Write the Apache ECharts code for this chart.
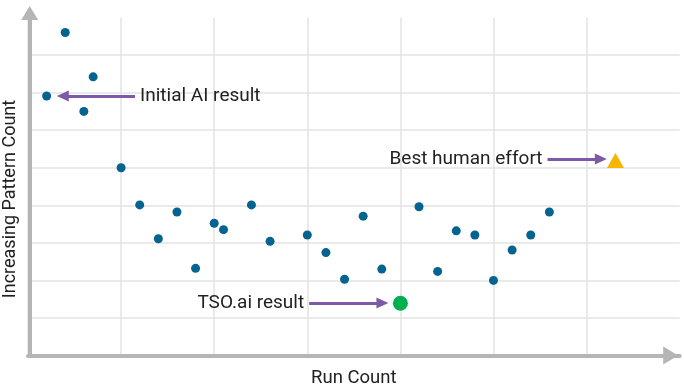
<!DOCTYPE html>
<html>
<head>
<meta charset="utf-8">
<script src="https://cdn.jsdelivr.net/npm/echarts@6/dist/echarts.min.js"></script>
<style>
html,body{margin:0;padding:0;background:#fff;}
#chart{width:684px;height:386px;}
</style>
</head>
<body>
<div id="chart"></div>
<script>
// AI runs (blue dots)
var runX = [0.2, 0.4, 0.6, 0.7, 1.0, 1.2, 1.4, 1.6, 1.8, 2.0, 2.1, 2.4, 2.6, 3.0, 3.2, 3.4, 3.6, 3.8, 4.2, 4.4, 4.6, 4.8, 5.0, 5.2, 5.4, 5.6];
var patternY = [6.91, 8.6, 6.5, 7.42, 5.0, 4.01, 3.11, 3.82, 2.32, 3.52, 3.35, 4.01, 3.04, 3.21, 2.74, 2.03, 3.71, 2.3, 3.96, 2.24, 3.32, 3.21, 2.0, 2.81, 3.21, 3.82];
// Highlighted results
var tsoResult = [4.0, 1.39];
var humanBest = [6.31, 5.19];
// Annotations: label, arrow start [x, y], arrow end [x, y]
var annLabels = ['Initial AI result', 'TSO.ai result', 'Best human effort'];
var annStart = [[1.15, 6.91], [3.02, 1.40], [5.58, 5.23]];
var annEnd = [[0.374, 6.91], [3.807, 1.40], [6.153, 5.23]];
// Axes
var axisNames = {x: 'Run Count', y: 'Increasing Pattern Count'};
var xMax = 7, yMax = 9;

var FONT = 'Roboto';
var GRID_C = '#e3e3e3';
var AXIS_C = '#b5b5b5';

var blueData = runX.map(function (x, i) { return [x, patternY[i]]; });
var markData = annLabels.map(function (l, i) {
  return [{coord: annStart[i], name: l}, {coord: annEnd[i]}];
});

var chart = echarts.init(document.getElementById('chart'), null, {renderer: 'canvas'});
chart.setOption({
  animation: false,
  backgroundColor: '#fff',
  grid: {left: 28, right: 4.3, top: 17.5, bottom: 30.5, containLabel: false, outerBoundsMode: 'none'},
  xAxis: {
    type: 'value', min: 0, max: xMax, interval: 1, offset: 1.2,
    name: axisNames.x, nameLocation: 'middle', nameGap: 12,
    nameTextStyle: {fontFamily: FONT, fontSize: 18.5, color: '#222', verticalAlign: 'top'},
    axisLine: {show: true, lineStyle: {color: AXIS_C, width: 4}, symbol: ['none', 'triangle'], symbolSize: [18, 15], symbolOffset: [0, -9]},
    axisTick: {show: false}, axisLabel: {show: false},
    splitLine: {show: true, showMaxLine: false, lineStyle: {color: GRID_C, width: 1.5}}
  },
  yAxis: {
    type: 'value', min: 0, max: yMax, interval: 1, offset: -1.7,
    name: axisNames.y, nameLocation: 'middle', nameGap: 10.5,
    nameTextStyle: {fontFamily: FONT, fontSize: 18, color: '#222', padding: [0, 25, 0, 0]},
    axisLine: {show: true, lineStyle: {color: AXIS_C, width: 4}, symbol: ['none', 'triangle'], symbolSize: [17, 14], symbolOffset: [0, 4.5]},
    axisTick: {show: false}, axisLabel: {show: false},
    splitLine: {show: true, showMaxLine: false, lineStyle: {color: GRID_C, width: 1.5}}
  },
  series: [
    {
      type: 'scatter', data: blueData, symbolSize: 9,
      itemStyle: {color: '#04648f', opacity: 1},
      markLine: {
        silent: true, animation: false,
        symbol: ['none', 'triangle'], symbolSize: [11, 12],
        lineStyle: {color: '#7d5aa8', width: 3, type: 'solid'},
        label: {show: true, position: 'start', distance: 5, formatter: '{b}', fontFamily: FONT, fontSize: 19, color: '#222'},
        emphasis: {disabled: true},
        data: markData
      }
    },
    {
      type: 'scatter', data: [tsoResult], symbolSize: 15,
      itemStyle: {color: '#00b050', opacity: 1}
    },
    {
      type: 'scatter', data: [humanBest], symbol: 'triangle', symbolSize: [17, 15],
      itemStyle: {color: '#f7b500', opacity: 1}
    }
  ]
});
</script>
</body>
</html>
